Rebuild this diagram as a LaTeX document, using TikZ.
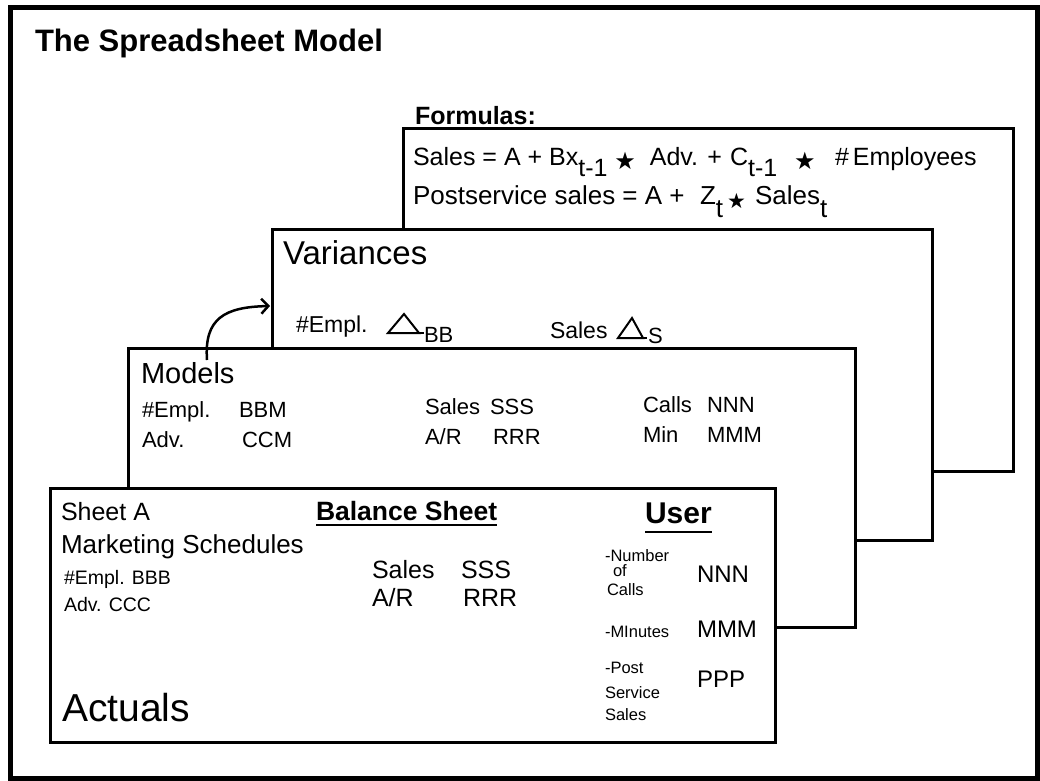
\documentclass[tikz,border=0pt]{standalone}
\usepackage{fontspec}
\setmainfont{Liberation Sans}
\newfontfamily\dvs{DejaVu Sans}
\usetikzlibrary{arrows.meta}
\newcommand\myfs[1]{\fontsize{#1}{#1}\selectfont}
\newcommand\lowsub[2]{\raisebox{-#1}{#2}}
\newcommand\mystar[1]{\raisebox{-4pt}{\dvs\myfs{#1}★}}
\begin{document}
\begin{tikzpicture}[x=1pt,y=-1pt,
  sheet/.style={draw=black, fill=white, line width=3pt, anchor=north west, inner sep=0pt, outer sep=0pt},
  txt/.style={anchor=base west, inner sep=0pt, outer sep=0pt},
  frm/.style={txt, font=\myfs{25}},
  mdl/.style={txt, font=\myfs{22}},
  frt/.style={txt, font=\myfs{25}},
  usr/.style={txt, font=\myfs{16.5}},
  val/.style={txt, font=\myfs{24}},
  tri/.style={line width=2pt, line join=miter},
  uline/.style={line width=2.5pt},
  arr/.style={line width=2.5pt, -{Straight Barb[length=7pt,width=15pt,line width=2.5pt]}}
]
\useasboundingbox (0,0) rectangle (1040,780);
\draw[line width=5pt] (10,7) rectangle (1037,778);
\node[txt, font=\bfseries\myfs{31}] (title) at (35,51) {The Spreadsheet Model};

% Formulas sheet
\node[txt, font=\bfseries\myfs{25}] (flabel) at (415,124) {Formulas:};
\node[sheet, minimum width=610pt, minimum height=343pt] (formulas) at (403,128) {};
\node[frm] (f1a) at (413,165) {Sales = A + Bx\lowsub{11pt}{t-1}\ \mystar{24}\ \ Adv. +};
\node[frm] (f1b) at (730,165) {C\lowsub{11pt}{t-1}};
\node[txt] (f1c) at (794,165) {\mystar{24}};
\node[frm] (f1d) at (835,165) {\#\kern4pt Employees};
\node[txt, font=\myfs{26}] (f2a) at (413,204) {Postservice sales = A +};
\node[txt, font=\myfs{26}] (f2b) at (700,204) {Z\lowsub{13pt}{t}};
\node[txt] (f2c) at (727,204) {\mystar{21}};
\node[txt, font=\myfs{26}] (f2d) at (755,204) {Sales\lowsub{13pt}{t}};

% Variances sheet
\node[sheet, minimum width=660pt, minimum height=311pt] (variances) at (272,229) {};
\node[txt, font=\myfs{33}] (vtitle) at (283,264) {Variances};
\node[txt, font=\myfs{23}] (v1) at (296,332) {\#Empl.};
\draw[tri] (388,333) -- (404,314) -- (419,333) -- cycle;
\draw[tri] (419,333) -- (424,333);
\node[txt, font=\myfs{22}] (v1s) at (424,342) {BB};
\node[txt, font=\myfs{23}] (v2) at (550,338) {Sales};
\draw[tri] (618,338) -- (632,318) -- (643,338) -- cycle;
\draw[tri] (643,338) -- (647,338);
\node[txt, font=\myfs{22}] (v2s) at (648,343) {S};

% Models sheet
\node[sheet, minimum width=727pt, minimum height=279pt] (models) at (128,348) {};
\node[txt, font=\myfs{29}] (mtitle) at (141,383) {Models};
\node[mdl] (m1a) at (142,417) {\#Empl.};
\node[mdl] (m1b) at (239,417) {BBM};
\node[mdl] (m2a) at (142,447) {Adv.};
\node[mdl] (m2b) at (242,447) {CCM};
\node[mdl] (m3a) at (425,414) {Sales};
\node[mdl] (m3b) at (490,414) {SSS};
\node[mdl] (m4a) at (425,444) {A/R};
\node[mdl] (m4b) at (493,444) {RRR};
\node[mdl] (m5a) at (643,412) {Calls};
\node[mdl] (m5b) at (707,412) {NNN};
\node[mdl] (m6a) at (643,442) {Min};
\node[mdl] (m6b) at (707,442) {MMM};

% arrow Models -> Variances
\coordinate (arrS) at (207,360);
\coordinate (arrE) at (270,306);
\draw[arr] (arrS) .. controls (204,318) and (225,307) .. (arrE);

% Front sheet
\node[sheet, minimum width=725pt, minimum height=254pt] (front) at (50,488) {};
\node[txt, font=\myfs{25}] (sa) at (61,520) {Sheet A};
\node[txt, font=\myfs{26}] (ms) at (61,553) {Marketing Schedules};
\node[txt, font=\myfs{19.5}] (e1) at (64,584) {\#Empl. BBB};
\node[txt, font=\myfs{19.5}] (e2) at (64,611) {Adv. CCC};
\node[txt, font=\bfseries\myfs{26.5}] (bal) at (316,520) {Balance Sheet};
\draw[uline] ([yshift=-5pt]bal.base west) -- ([yshift=-5pt]bal.base east);
\node[frt] (s1a) at (372,578) {Sales};
\node[frt] (s1b) at (461,578) {SSS};
\node[frt] (s2a) at (372,606) {A/R};
\node[frt] (s2b) at (463,606) {RRR};
\node[txt, font=\bfseries\myfs{30}] (user) at (645,523) {User};
\draw[uline] ([yshift=-9pt]user.base west) -- ([yshift=-9pt]user.base east);
\node[usr] (u1) at (605,561) {-Number};
\node[usr] (u2) at (613,576) {of};
\node[usr] (u3) at (607,595) {Calls};
\node[val] (nnn) at (697,582) {NNN};
\node[usr] (u4) at (605,637) {-MInutes};
\node[val] (mmm) at (697,637) {MMM};
\node[usr] (u5) at (605,673) {-Post};
\node[usr] (u6) at (605,698) {Service};
\node[usr] (u7) at (605,720) {Sales};
\node[val] (ppp) at (697,687) {PPP};
\node[txt, font=\myfs{39}] (act) at (62,721) {Actuals};
\end{tikzpicture}
\end{document}
